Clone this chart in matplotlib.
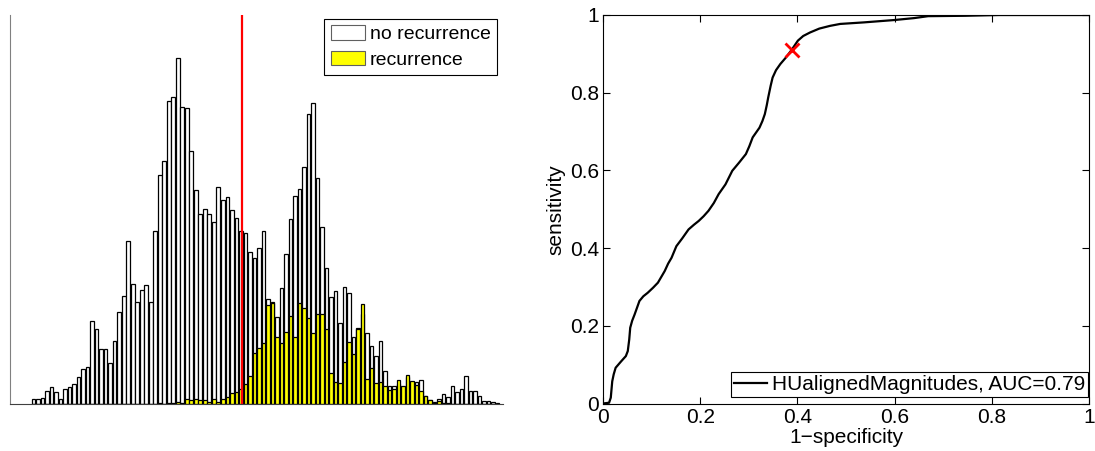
import numpy as np
import matplotlib
matplotlib.use("Agg")
import matplotlib.pyplot as plt
from matplotlib.patches import Patch

plt.rcParams['font.family'] = ['Liberation Sans', 'DejaVu Sans']

# histogram counts per bin (104 bins)
no_recurrence = [
    5, 5, 6, 13, 17, 12, 5, 15, 17, 20, 27, 35, 37, 83, 75, 55, 55, 41, 63, 92,
    108, 163, 120, 102, 114, 119, 102, 173, 229, 243, 303, 307, 346, 297, 296, 253, 214, 190, 195, 190,
    182, 217, 204, 207, 194, 186, 173, 171, 152, 146, 156, 173, 105, 102, 87, 116, 150, 185, 208, 215,
    237, 290, 301, 226, 177, 136, 107, 113, 81, 117, 111, 67, 76, 90, 71, 58, 48, 63, 33, 18,
    18, 20, 15, 27, 20, 22, 24, 8, 4, 2, 5, 10, 7, 18, 12, 15, 28, 13, 13, 8,
    3, 3, 2, 1,
]
recurrence = [
    0, 0, 0, 0, 0, 0, 0, 0, 0, 0, 0, 0, 0, 0, 0, 0, 0, 0, 0, 0,
    0, 0, 0, 0, 0, 0, 0, 0, 1.5, 0.5, 1, 1.5, 2, 1.5, 5, 4, 5.5, 4, 4, 2,
    5, 2.5, 5, 7.5, 11, 12, 15, 20, 28, 51, 56, 61, 99, 101, 67, 61, 72, 88, 67, 101,
    96, 86, 71, 90, 90, 75, 31, 22, 21, 42, 62, 50, 75, 100, 25, 36, 21, 22, 18, 14,
    15, 24, 18, 29, 23, 19, 13, 8, 4, 1, 3, 1, 1, 0, 0, 0, 0, 0, 0, 0,
    0, 0, 0, 0,
]
threshold_bin = 47.2

# ROC curve
fpr = [0, 0.0125, 0.016, 0.019, 0.022, 0.026, 0.037, 0.047, 0.051, 0.054, 0.056,
       0.060, 0.065, 0.075, 0.083, 0.092, 0.103, 0.113, 0.120, 0.127, 0.134,
       0.141, 0.151, 0.163, 0.176, 0.187, 0.197, 0.207, 0.217, 0.228, 0.238,
       0.252, 0.266, 0.280, 0.294, 0.301, 0.308, 0.322, 0.328, 0.333, 0.337,
       0.340, 0.345, 0.349, 0.356, 0.365, 0.376, 0.388, 0.401, 0.412, 0.426,
       0.445, 0.467, 0.488, 0.537, 0.599, 0.640, 0.669, 0.745, 0.815, 1.0]
tpr = [0, 0.002, 0.015, 0.057, 0.075, 0.092, 0.108, 0.122, 0.135, 0.165, 0.195,
       0.213, 0.229, 0.264, 0.276, 0.285, 0.298, 0.311, 0.326, 0.341, 0.360,
       0.375, 0.405, 0.425, 0.448, 0.460, 0.470, 0.482, 0.496, 0.516, 0.539,
       0.564, 0.599, 0.620, 0.642, 0.662, 0.685, 0.710, 0.727, 0.745, 0.768,
       0.788, 0.818, 0.839, 0.858, 0.874, 0.890, 0.910, 0.934, 0.946, 0.955,
       0.965, 0.972, 0.977, 0.981, 0.987, 0.992, 0.997, 0.998, 1.0, 1.0]
op_point = (0.388, 0.910)
auc = 0.79

W, H = 1095, 451
fig = plt.figure(figsize=(W / 100, H / 100), dpi=100)

# --- left: score histograms ---
ax1 = fig.add_axes([10 / W, 1 - 404 / H, 493 / W, 389 / H])
bins = np.arange(1, len(no_recurrence) + 1)
ax1.bar(bins, no_recurrence, width=0.8, color='white', edgecolor='black', linewidth=0.9)
ax1.bar(bins, recurrence, width=0.8, color='#ffff00', edgecolor='black', linewidth=0.9)
ax1.axvline(threshold_bin, color='red', linewidth=1.6)
ax1.set_xlim(-4.24, 105.2)
ax1.set_ylim(0, 389)
ax1.set_xticks([])
ax1.set_yticks([])
ax1.spines['top'].set_visible(False)
ax1.spines['right'].set_visible(False)
ax1.spines['left'].set_color('#808080')
ax1.spines['bottom'].set_color('#404040')
handles = [Patch(facecolor='white', edgecolor='#606060', linewidth=0.8),
           Patch(facecolor='#ffff00', edgecolor='#606060', linewidth=0.8)]
leg1 = ax1.legend(handles, ['no recurrence', 'recurrence'], loc='upper right',
                  bbox_to_anchor=(497 / W, 1 - 19 / H), bbox_transform=fig.transFigure,
                  borderaxespad=0, fontsize=14, fancybox=False, framealpha=1,
                  handlelength=1.75, handleheight=0.75, handletextpad=0.25,
                  borderpad=0.33, labelspacing=0.38)
leg1.get_frame().set_edgecolor('black')
leg1.get_frame().set_linewidth(0.8)

# --- right: ROC curve ---
ax2 = fig.add_axes([603 / W, 1 - 403.5 / H, 486 / W, 388.5 / H])
ax2.plot(fpr, tpr, color='black', linewidth=1.6,
         label='HUalignedMagnitudes, AUC=%.2f' % auc)
ax2.plot(*op_point, 'x', color='red', markersize=10, markeredgewidth=2)
ax2.set_xlim(0, 1)
ax2.set_ylim(0, 1)
ticks = [0, 0.2, 0.4, 0.6, 0.8, 1]
labels = ['0', '0.2', '0.4', '0.6', '0.8', '1']
ax2.set_xticks(ticks, labels)
ax2.set_yticks(ticks, labels)
ax2.tick_params(direction='in', top=True, right=True, length=5, width=0.8,
                labelsize=15, pad=3)
ax2.set_xlabel('1\u2212specificity', fontsize=15, labelpad=1)
ax2.set_ylabel('sensitivity', fontsize=15, labelpad=3)
for s in ax2.spines.values():
    s.set_linewidth(0.8)
leg2 = ax2.legend(loc='lower right', bbox_to_anchor=(1088 / W, 1 - 397 / H),
                  bbox_transform=fig.transFigure, borderaxespad=0, fontsize=15,
                  fancybox=False, framealpha=1, handlelength=1.6,
                  handletextpad=0.2, borderpad=0.15)
leg2.get_frame().set_edgecolor('black')
leg2.get_frame().set_linewidth(0.8)

fig.savefig('out.png', dpi=100)
